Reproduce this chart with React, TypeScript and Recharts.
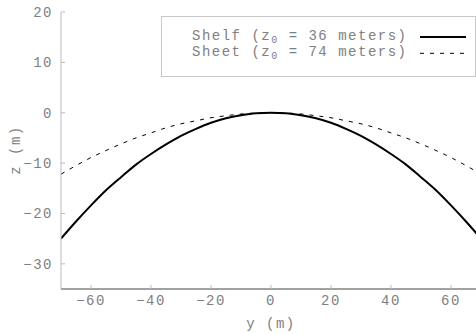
import React from "react";
import { LineChart, Line, XAxis, YAxis, Customized } from "recharts";

// Horizontal distance across the feature (m)
const yPositions = [-70, -65, -60, -55, -50, -45, -40, -35, -30, -25, -20, -15, -10, -5, 0, 5, 10, 15, 20, 25, 30, 35, 40, 45, 50, 55, 60, 65, 70];
// Surface elevation of the shelf profile (m)
const shelfDepth = [-25, -21.6, -18.4, -15.4, -12.8, -10.3, -8.2, -6.3, -4.6, -3.2, -2.0, -1.1, -0.5, -0.1, 0, -0.1, -0.5, -1.1, -2.0, -3.2, -4.6, -6.3, -8.2, -10.3, -12.8, -15.4, -18.4, -21.6, -25];
// Surface elevation of the sheet profile (m)
const sheetDepth = [-12.2, -10.5, -8.9, -7.5, -6.2, -5.0, -4.0, -3.0, -2.2, -1.6, -1.0, -0.6, -0.25, -0.06, 0, -0.06, -0.25, -0.6, -1.0, -1.6, -2.2, -3.0, -4.0, -5.0, -6.2, -7.5, -8.9, -10.5, -12.2];

const xTicks = [-60, -40, -20, 0, 20, 40, 60];
const zTicks = [-30, -20, -10, 0, 10, 20];

const legendRows = [
  { name: "Shelf", z0: "36", dashed: false },
  { name: "Sheet", z0: "74", dashed: true },
];

const data = yPositions.map((y, i) => ({ y, shelf: shelfDepth[i], sheet: sheetDepth[i] }));

const FONT = "'Liberation Mono', 'DejaVu Sans Mono', monospace";
const TEXT_COLOR = "#808080";
const tickStyle = { fontFamily: FONT, fontSize: 14, fill: TEXT_COLOR, letterSpacing: 1.5 };
const fmt = (v: number) => String(v).replace("-", "\u2212");

// Key box in the upper right of the plot area
const LegendBox = () => (
  <g transform="translate(161 16)">
    <rect x={0.5} y={0.5} width={314} height={60} fill="#fff" stroke="#c8c8c8" strokeWidth={1} />
    {legendRows.map((r, i) => {
      const base = 24 + i * 16;
      const ly = 21 + i * 16.3;
      return (
        <g key={r.name}>
          <text x={31} y={base} fontFamily={FONT} fontSize={14} fill={TEXT_COLOR} letterSpacing={1.5}>
            {r.name} (z
            <tspan fontSize={10} dy={3}>0</tspan>
            <tspan dy={-3}> = {r.z0} meters)</tspan>
          </text>
          <line
            x1={259}
            x2={305}
            y1={ly}
            y2={ly}
            stroke="#000"
            strokeWidth={r.dashed ? 1 : 2}
            strokeDasharray={r.dashed ? "4 6" : undefined}
          />
        </g>
      );
    })}
  </g>
);

const AxisTitles = () => (
  <g>
    <text x={271} y={328} textAnchor="middle" fontFamily={FONT} fontSize={14} fill={TEXT_COLOR} letterSpacing={1.5}>
      y (m)
    </text>
    <text
      x={20}
      y={150}
      textAnchor="middle"
      transform="rotate(-90 20 150)"
      fontFamily={FONT}
      fontSize={14}
      fill={TEXT_COLOR}
      letterSpacing={1.5}
    >
      z (m)
    </text>
  </g>
);

export default function App() {
  return (
    <div style={{ position: "absolute", left: 0, top: 0, width: 476, height: 334, overflow: "hidden", background: "#fff" }}>
      <LineChart width={500} height={334} data={data} margin={{ top: 12, right: 19, left: 0, bottom: 0 }}>
        <XAxis
          dataKey="y"
          type="number"
          domain={[-70, 70]}
          ticks={xTicks}
          tickFormatter={fmt}
          height={45}
          axisLine={{ stroke: "#444", strokeWidth: 1 }}
          tickLine={{ stroke: "#bbb" }}
          tickSize={-4}
          tickMargin={10}
          tick={tickStyle}
          allowDataOverflow
        />
        <XAxis
          xAxisId="top"
          dataKey="y"
          type="number"
          orientation="top"
          domain={[-70, 70]}
          ticks={xTicks}
          height={0}
          axisLine={{ stroke: "#444", strokeWidth: 1 }}
          tickLine={{ stroke: "#bbb" }}
          tickSize={-4}
          tick={false}
          allowDataOverflow
        />
        <YAxis
          type="number"
          domain={[-35, 20]}
          ticks={zTicks}
          tickFormatter={fmt}
          width={61}
          axisLine={{ stroke: "#bbb", strokeWidth: 1 }}
          tickLine={{ stroke: "#bbb" }}
          tickSize={-4}
          tickMargin={12}
          tick={tickStyle}
          allowDataOverflow
        />
        <Line
          type="monotone"
          dataKey="shelf"
          stroke="#000"
          strokeWidth={2}
          dot={false}
          activeDot={false}
          isAnimationActive={false}
        />
        <Line
          type="monotone"
          dataKey="sheet"
          stroke="#000"
          strokeWidth={1}
          strokeDasharray="4 6"
          dot={false}
          activeDot={false}
          isAnimationActive={false}
        />
        <Customized component={LegendBox} />
        <Customized component={AxisTitles} />
      </LineChart>
    </div>
  );
}
